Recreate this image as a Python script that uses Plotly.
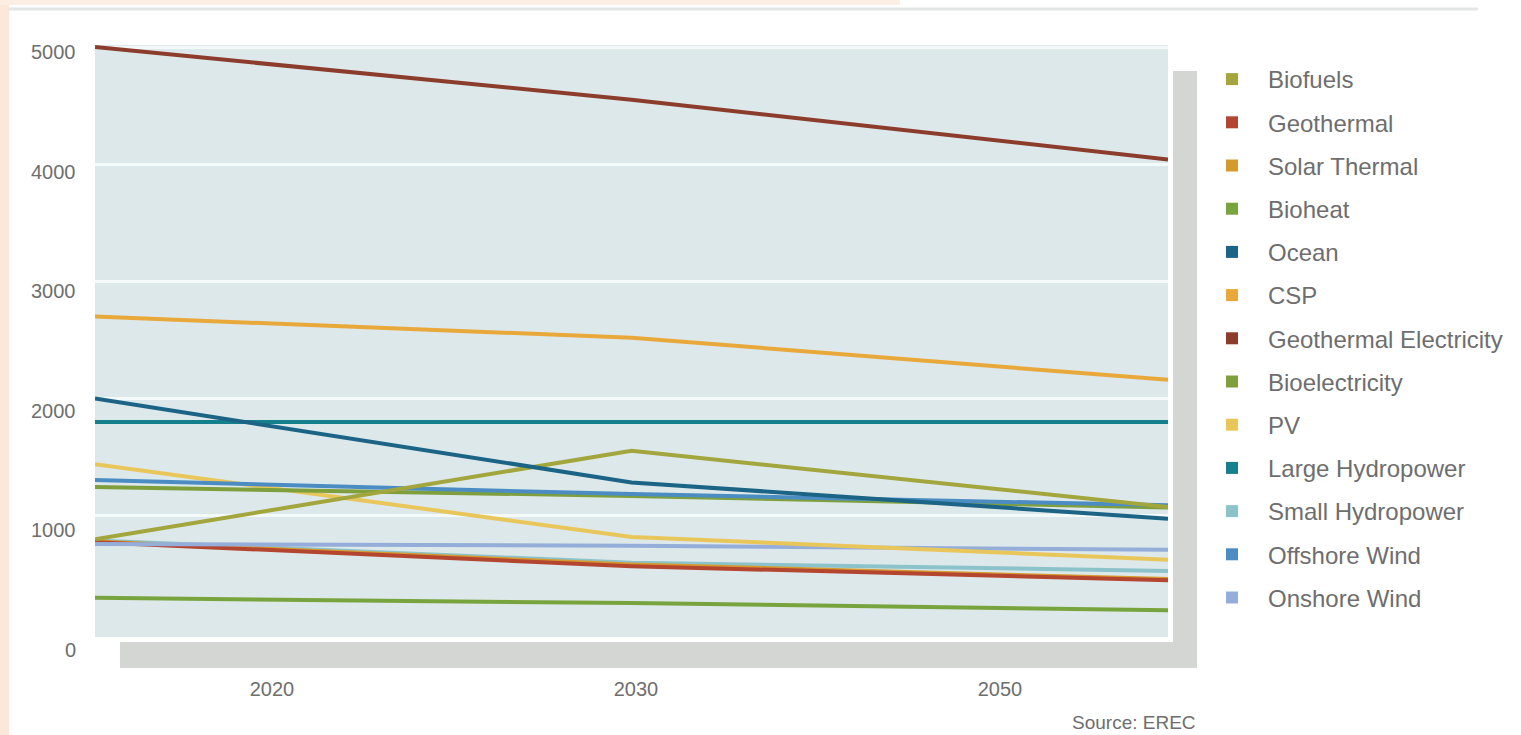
import plotly.graph_objects as go

# ---------------- data ----------------
periods = ["2020", "2030", "2050"]
period_pos = [0, 1, 2]                 # index of each data point along the category axis

legend_order = ["Biofuels", "Geothermal", "Solar Thermal", "Bioheat", "Ocean", "CSP",
                "Geothermal Electricity", "Bioelectricity", "PV", "Large Hydropower",
                "Small Hydropower", "Offshore Wind", "Onshore Wind"]

bioheat = [300, 255, 195]
geothermal = [775, 570, 450]
solar_thermal = [780, 585, 460]
small_hydropower = [790, 600, 530]
onshore_wind = [760, 745, 710]
biofuels = [800, 1555, 1075]
bioelectricity = [1245, 1170, 1070]
offshore_wind = [1305, 1185, 1090]
pv = [1440, 820, 625]
large_hydropower = [1800, 1800, 1800]
ocean = [2000, 1285, 975]
csp = [2700, 2520, 2160]
geothermal_electricity = [5000, 4550, 4040]

y_ticks = [0, 1000, 2000, 3000, 4000, 5000]
source_text = "Source: EREC"

# ---------------- style ----------------
colors = {
    "Biofuels": "#a2a63c",
    "Geothermal": "#b4452f",
    "Solar Thermal": "#d59a2e",
    "Bioheat": "#78a43e",
    "Ocean": "#1b6486",
    "CSP": "#e9a83a",
    "Geothermal Electricity": "#8c3c2b",
    "Bioelectricity": "#7f9f3c",
    "PV": "#e9c65a",
    "Large Hydropower": "#14808d",
    "Small Hydropower": "#8cc3cb",
    "Offshore Wind": "#4b8dc2",
    "Onshore Wind": "#95aed9",
}

series = [
    ("Bioheat", bioheat),
    ("Small Hydropower", small_hydropower),
    ("Solar Thermal", solar_thermal),
    ("Geothermal", geothermal),
    ("Onshore Wind", onshore_wind),
    ("PV", pv),
    ("Bioelectricity", bioelectricity),
    ("Offshore Wind", offshore_wind),
    ("Biofuels", biofuels),
    ("Large Hydropower", large_hydropower),
    ("Ocean", ocean),
    ("CSP", csp),
    ("Geothermal Electricity", geothermal_electricity),
]

W, H = 1521, 735
PL, PR, PT, PB = 95, 1168, 45, 637


def px(x):
    return (x - PL) / (PR - PL)


def py(y):
    return (PB - y) / (PB - PT)


FONT = "Liberation Sans, Arial, sans-serif"
TXT = "#6e6e6e"

fig = go.Figure()

for name, vals in series:
    fig.add_trace(go.Scatter(
        x=period_pos, y=vals, name=name, mode="lines",
        line=dict(color=colors[name], width=4),
        showlegend=False, hoverinfo="name+y",
    ))

for i, name in enumerate(legend_order):
    fig.add_trace(go.Scatter(
        x=[None], y=[None], name=name, mode="markers",
        marker=dict(symbol="square", size=12, color=colors[name]),
        legendgroup=name, showlegend=True,
    ))

# tick label positions along the (perspective-shifted) category axis
tick_positions = [px(272) * 2, px(636) * 2, px(1000) * 2]

shapes = [
    # left peach strip and top strip of the page
    dict(type="rect", xref="paper", yref="paper", x0=px(0), x1=px(9), y0=py(H), y1=py(0),
         fillcolor="#fce8da", line=dict(width=0), layer="below"),
    dict(type="rect", xref="paper", yref="paper", x0=px(0), x1=px(900), y0=py(5), y1=py(0),
         fillcolor="#fdeee3", line=dict(width=0), layer="below"),
    dict(type="line", xref="paper", yref="paper", x0=px(9), x1=px(1478), y0=py(9), y1=py(9),
         line=dict(color="#e4e6e6", width=3), layer="below"),
    # 3D shadow of the plot panel
    dict(type="rect", xref="paper", yref="paper", x0=px(120), x1=px(1197), y0=py(668), y1=py(642),
         fillcolor="#d4d6d4", line=dict(width=0), layer="below"),
    dict(type="rect", xref="paper", yref="paper", x0=px(1173), x1=px(1197), y0=py(668), y1=py(71),
         fillcolor="#d4d6d4", line=dict(width=0), layer="below"),
]

annotations = []
for v in y_ticks:
    annotations.append(dict(
        x=px(78), xref="paper", y=v, yref="y", xanchor="right", yanchor="middle",
        text=str(v), showarrow=False, yshift=-(5 + 12 * (1 - v / 5000)),
        font=dict(family=FONT, size=20, color=TXT),
    ))
annotations.append(dict(
    x=px(1198), xref="paper", y=py(722), yref="paper", xanchor="right", yanchor="middle",
    text=source_text, showarrow=False,
    font=dict(family=FONT, size=19, color=TXT),
))

y_per_px = 5000 / (633 - 47)
y_lo = -(PB - 633) * y_per_px
y_hi = 5000 + (47 - PT) * y_per_px

fig.update_layout(
    width=W, height=H,
    margin=dict(l=PL, r=W - PR, t=PT, b=H - PB, pad=0),
    paper_bgcolor="white",
    plot_bgcolor="#dce8ea",
    font=dict(family=FONT, color=TXT),
    xaxis=dict(
        range=[0, 2], showgrid=False, zeroline=False, showline=False,
        tickmode="array", tickvals=tick_positions, ticktext=periods,
        ticks="", ticklabelstandoff=38,
        tickfont=dict(family=FONT, size=20, color=TXT),
        fixedrange=True,
    ),
    yaxis=dict(
        range=[y_lo, y_hi], tickmode="array", tickvals=y_ticks[1:],
        showticklabels=False, showgrid=True, gridcolor="#f4f9f9", gridwidth=3,
        zeroline=False, showline=False, ticks="", fixedrange=True,
    ),
    legend=dict(
        x=px(1196), y=py(57), xanchor="left", yanchor="top",
        font=dict(family=FONT, size=24, color=TXT),
        itemwidth=62, tracegroupgap=9, bgcolor="rgba(0,0,0,0)",
        traceorder="grouped",
    ),
    shapes=shapes,
    annotations=annotations,
    showlegend=True,
)

fig.write_html("out.html", config={"displayModeBar": False},
               post_script="document.body.style.margin='0';")
